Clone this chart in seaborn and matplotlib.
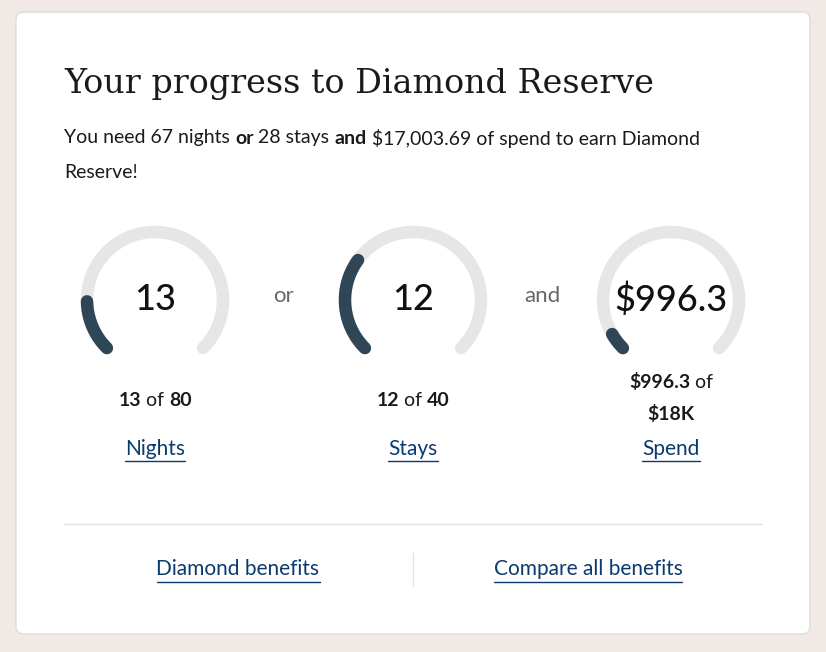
import numpy as np
import matplotlib
matplotlib.use("Agg")
import matplotlib.pyplot as plt
import seaborn as sns
from matplotlib.patches import FancyBboxPatch

sns.set_theme(style="white")
plt.rcParams['font.family'] = ['Lato', 'DejaVu Sans']

# data
metrics = ["Nights", "Stays", "Spend"]
current = [13, 12, 996.3]
targets = [80, 40, 18000]
center_labels = ["13", "12", "$996.3"]
joiners = ["or", "and"]

W, H = 826, 652
fig = plt.figure(figsize=(W / 100, H / 100), dpi=100)
fig.patch.set_facecolor("#f0e9e6")
ax = fig.add_axes([0, 0, 1, 1])
ax.set_xlim(0, W)
ax.set_ylim(H, 0)
ax.set_aspect("equal")
ax.axis("off")

ax.add_patch(FancyBboxPatch((16, 12), 794, 622, boxstyle="round,pad=0,rounding_size=8",
                            fc="white", ec="#dddddd", lw=1))

ax.text(64, 84, "Your progress to Diamond Reserve", fontsize=24, family="DejaVu Serif",
        color="#1a1a1a", va="center")

fig.canvas.draw()
renderer = fig.canvas.get_renderer()
inv = ax.transData.inverted()


def run_text(x, y, parts, size=14, color="#1a1a1a", measure=False):
    start = x
    for s, w in parts:
        t = ax.text(x, y, s, fontsize=size, fontweight=w, color=color, va="center")
        bb = t.get_window_extent(renderer)
        x += inv.transform((bb.x1, 0))[0] - inv.transform((bb.x0, 0))[0]
        if measure:
            t.remove()
    return x - start


run_text(64, 138, [("You need 67 nights ", "normal"), ("or", "bold"), (" 28 stays ", "normal"),
                   ("and", "bold"), (" $17,003.69 of spend to earn Diamond", "normal")])
run_text(64, 172, [("Reserve!", "normal")])

centers = [155, 413, 671]
cy, r = 300, 68
link = "#0b3a6e"
for i, cx in enumerate(centers):
    frac = min(current[i] / targets[i], 1)
    th = np.radians(np.linspace(225, -45, 200))
    ax.plot(cx + r * np.cos(th), cy - r * np.sin(th), color="#e6e6e9", lw=9, solid_capstyle="round")
    th = np.radians(np.linspace(225, 225 - 270 * frac, 100))
    ax.plot(cx + r * np.cos(th), cy - r * np.sin(th), color="#2f4656", lw=9, solid_capstyle="round")
    ax.text(cx, cy, center_labels[i], fontsize=26, ha="center", va="center",
            color="#111111", fontweight="medium")
    if i < 2:
        parts = [(center_labels[i], "bold"), (" of ", "normal"), (str(targets[i]), "bold")]
        w = run_text(0, 0, parts, measure=True)
        run_text(cx - w / 2, 400, parts)
    else:
        parts = [(center_labels[i], "bold"), (" of", "normal")]
        w = run_text(0, 0, parts, measure=True)
        run_text(cx - w / 2, 382, parts)
        ax.text(cx, 414, "$18K", fontsize=14, fontweight="bold", ha="center", va="center", color="#1a1a1a")
    ly = 449
    t = ax.text(cx, ly, metrics[i], fontsize=15, color=link, ha="center", va="center")
    bb = t.get_window_extent(renderer)
    w = inv.transform((bb.x1, 0))[0] - inv.transform((bb.x0, 0))[0]
    ax.plot([cx - w / 2, cx + w / 2], [ly + 12, ly + 12], color=link, lw=1)

for j, txt in enumerate(joiners):
    ax.text((centers[j] + centers[j + 1]) / 2, 296, txt, fontsize=16, color="#666666", ha="center", va="center")

ax.plot([64, 762], [524, 524], color="#e3e3e3", lw=1)
ax.plot([413, 413], [553, 586], color="#e3e3e3", lw=1)
for cx, txt in [(238, "Diamond benefits"), (588, "Compare all benefits")]:
    t = ax.text(cx, 569, txt, fontsize=15, color=link, ha="center", va="center")
    bb = t.get_window_extent(renderer)
    w = inv.transform((bb.x1, 0))[0] - inv.transform((bb.x0, 0))[0]
    ax.plot([cx - w / 2, cx + w / 2], [582, 582], color=link, lw=1)

fig.savefig("out.png", dpi=100, facecolor=fig.get_facecolor())
